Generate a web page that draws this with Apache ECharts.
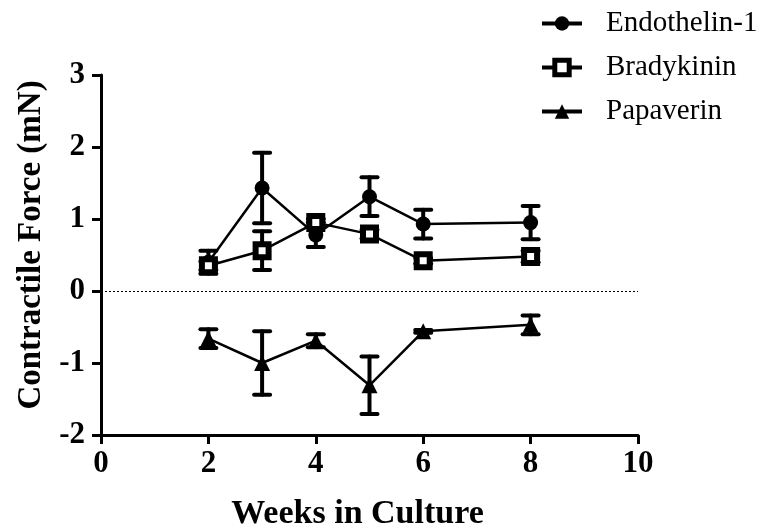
<!DOCTYPE html>
<html>
<head>
<meta charset="utf-8">
<script src="https://cdn.jsdelivr.net/npm/echarts@6/dist/echarts.min.js"></script>
<style>
  html, body { margin: 0; padding: 0; background: #fff; }
  #chart { width: 761px; height: 529px; }
</style>
</head>
<body>
<div id="chart"></div>
<script>
// Contractile force over weeks in culture, mean ± error
const weeks = [2, 3, 4, 5, 6, 8];

const endothelinMean = [0.40, 1.43, 0.78, 1.31, 0.93, 0.95];
const endothelinErr  = [0.16, 0.49, 0.17, 0.27, 0.20, 0.23];

const bradykininMean = [0.35, 0.56, 0.95, 0.79, 0.42, 0.48];
const bradykininErr  = [0.06, 0.27, 0.05, 0.06, 0.04, 0.08];

const papaverinMean = [-0.66, -1.00, -0.69, -1.31, -0.56, -0.47];
const papaverinErr  = [0.13, 0.44, 0.09, 0.40, 0.02, 0.13];

const xTicks = [0, 2, 4, 6, 8, 10];
const yTicks = [-2, -1, 0, 1, 2, 3];

const serif = '"Liberation Serif", "Times New Roman", serif';

function pairs(xs, ys) { return xs.map((x, i) => [x, ys[i]]); }
function errRows(xs, m, e) { return xs.map((x, i) => [x, m[i] - e[i], m[i] + e[i]]); }

function errorSeries(name, rows) {
  return {
    type: 'custom',
    name: name + ' err',
    data: rows,
    z: 3,
    silent: true,
    renderItem: function (params, api) {
      const x = api.value(0);
      const lo = api.coord([x, api.value(1)]);
      const hi = api.coord([x, api.value(2)]);
      const hw = 8;
      const style = { stroke: '#000', lineWidth: 4, lineCap: 'round' };
      return {
        type: 'group',
        children: [
          { type: 'line', shape: { x1: lo[0], y1: lo[1], x2: hi[0], y2: hi[1] }, style: style },
          { type: 'line', shape: { x1: lo[0] - hw, y1: lo[1], x2: lo[0] + hw, y2: lo[1] }, style: style },
          { type: 'line', shape: { x1: hi[0] - hw, y1: hi[1], x2: hi[0] + hw, y2: hi[1] }, style: style }
        ]
      };
    }
  };
}

const chart = echarts.init(document.getElementById('chart'), null, { renderer: 'canvas' });

chart.setOption({
  animation: false,
  backgroundColor: '#fff',
  grid: { left: 101, right: 123, top: 75, bottom: 94, containLabel: false, outerBoundsMode: 'none' },
  legend: {
    orient: 'vertical',
    left: 535,
    top: 4,
    itemWidth: 40,
    itemHeight: 18,
    itemGap: 15,
    lineStyle: { width: 4 },
    textStyle: { fontFamily: serif, fontSize: 29, color: '#000', padding: [0, 0, 0, 19] },
    data: [
      { name: 'Endothelin-1' },
      { name: 'Bradykinin', itemStyle: { borderWidth: 5 } },
      { name: 'Papaverin' }
    ]
  },
  xAxis: {
    type: 'value',
    min: 0, max: 10, interval: 2,
    name: 'Weeks in Culture',
    nameLocation: 'middle',
    nameGap: 62,
    nameTextStyle: { fontFamily: serif, fontSize: 34, fontWeight: 'bold', color: '#000', padding: [0, 24, 0, 0] },
    axisLine: { onZero: false, lineStyle: { color: '#000', width: 3 } },
    axisTick: { length: 9, lineStyle: { color: '#000', width: 3 } },
    axisLabel: { fontFamily: serif, fontSize: 31, fontWeight: 'bold', color: '#000', margin: 13,
                 formatter: v => xTicks.includes(v) ? String(v) : '' },
    splitLine: { show: false }
  },
  yAxis: {
    type: 'value',
    min: -2, max: 3, interval: 1,
    name: 'Contractile Force (mN)',
    nameLocation: 'middle',
    nameGap: 51,
    nameRotate: 90,
    nameTextStyle: { fontFamily: serif, fontSize: 33, fontWeight: 'bold', color: '#000', padding: [0, 0, 0, 20] },
    axisLine: { onZero: false, lineStyle: { color: '#000', width: 3 } },
    axisTick: { length: 9, lineStyle: { color: '#000', width: 3 } },
    axisLabel: { fontFamily: serif, fontSize: 31, fontWeight: 'bold', color: '#000', margin: 16,
                 formatter: v => yTicks.includes(v) ? String(v) : '' },
    splitLine: { show: false }
  },
  series: [
    {
      name: 'Endothelin-1',
      type: 'line',
      data: pairs(weeks, endothelinMean),
      symbol: 'circle',
      symbolSize: 15,
      itemStyle: { color: '#000' },
      lineStyle: { color: '#000', width: 2.5 },
      z: 4,
      markLine: {
        silent: true,
        symbol: 'none',
        label: { show: false },
        lineStyle: { color: '#000', width: 1, type: [2, 2] },
        data: [{ yAxis: 0 }]
      }
    },
    errorSeries('Endothelin-1', errRows(weeks, endothelinMean, endothelinErr)),
    {
      name: 'Bradykinin',
      type: 'line',
      data: pairs(weeks, bradykininMean),
      symbol: 'rect',
      symbolSize: 13,
      itemStyle: { color: '#fff', borderColor: '#000', borderWidth: 6 },
      lineStyle: { color: '#000', width: 2.5 },
      z: 5
    },
    errorSeries('Bradykinin', errRows(weeks, bradykininMean, bradykininErr)),
    {
      name: 'Papaverin',
      type: 'line',
      data: pairs(weeks, papaverinMean),
      symbol: 'triangle',
      symbolSize: 16,
      itemStyle: { color: '#000' },
      lineStyle: { color: '#000', width: 2.5 },
      z: 4
    },
    errorSeries('Papaverin', errRows(weeks, papaverinMean, papaverinErr))
  ]
});
</script>
</body>
</html>
